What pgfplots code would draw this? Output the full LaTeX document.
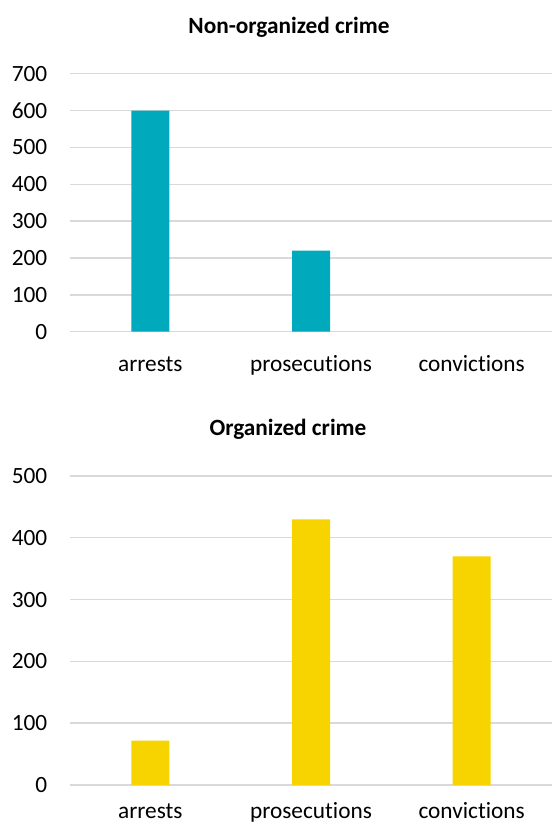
\documentclass[border=0pt]{standalone}
\usepackage{fontspec}
\setmainfont{Carlito}[Ligatures=NoCommon]
\usepackage{pgfplots}
\pgfplotsset{compat=1.18}
\definecolor{teal1}{RGB}{0,169,188}
\definecolor{yel1}{RGB}{247,212,0}
\definecolor{grid1}{RGB}{217,217,217}
\newcommand{\lbl}{\fontsize{23.3bp}{28bp}\selectfont}
\pgfplotsset{
  mybar/.style={
    scale only axis, width=482bp,
    xmin=-0.5, xmax=2.5, ymin=0,
    xtick={0,1,2}, xticklabels={arrests,prosecutions,convictions},
    axis line style={draw=none},
    major tick length=0pt,
    ymajorgrids, grid style={grid1, line width=1.4bp},
    tick label style={font=\lbl, inner sep=0pt},
    /pgf/number format/assume math mode=true,
    yticklabel style={anchor=east, xshift=-22.5bp},
    xticklabel style={anchor=base, yshift=-39.5bp},
    ybar, bar width=38bp,
    clip=false,
  }
}
\begin{document}
\begin{tikzpicture}
\path[use as bounding box] (0,0) rectangle (552bp,825bp);
\begin{axis}[mybar, at={(70bp,493.3bp)}, anchor=south west, height=258bp,
  ymax=700, ytick={0,100,...,700}]
\addplot[fill=teal1, draw=none] coordinates {(0,600) (1,220)};
\end{axis}
\node[anchor=base, font=\lbl\bfseries, inner sep=0pt] at (289bp,791bp) {Non-organized crime};
\begin{axis}[mybar, at={(70bp,40bp)}, anchor=south west, height=309bp,
  ymax=500, ytick={0,100,...,500}, xticklabel style={yshift=6bp}]
\addplot[fill=yel1, draw=none] coordinates {(0,72) (1,430) (2,370)};
\end{axis}
\node[anchor=base, font=\lbl\bfseries, inner sep=0pt] at (288bp,389bp) {Organized crime};
\end{tikzpicture}
\end{document}
